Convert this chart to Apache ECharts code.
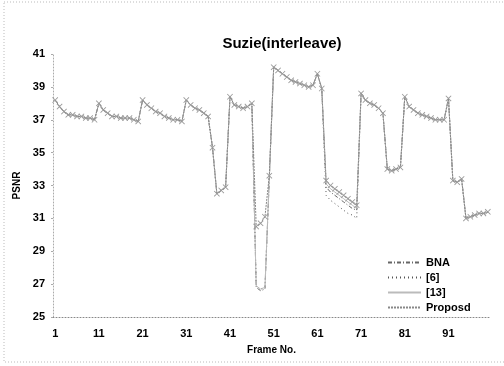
<!DOCTYPE html>
<html>
<head>
<meta charset="utf-8">
<script src="https://cdn.jsdelivr.net/npm/echarts@6/dist/echarts.min.js"></script>
<style>
  html, body { margin: 0; padding: 0; background: #fff; }
  #chart { width: 504px; height: 366px; }
</style>
</head>
<body>
<div id="chart"></div>
<script>
// frame numbers on the x axis
const frames = [
  1, 2, 3, 4, 5, 6, 7, 8, 9, 10, 11, 12, 13, 14, 15, 16, 17, 18, 19, 20,
  21, 22, 23, 24, 25, 26, 27, 28, 29, 30, 31, 32, 33, 34, 35, 36, 37, 38, 39, 40,
  41, 42, 43, 44, 45, 46, 47, 48, 49, 50, 51, 52, 53, 54, 55, 56, 57, 58, 59, 60,
  61, 62, 63, 64, 65, 66, 67, 68, 69, 70, 71, 72, 73, 74, 75, 76, 77, 78, 79, 80,
  81, 82, 83, 84, 85, 86, 87, 88, 89, 90, 91, 92, 93, 94, 95, 96, 97, 98, 99, 100
]
const seriesNames = ['BNA', '[6]', '[13]', 'Proposd']

// PSNR per frame
const bna = [
  38.2, 37.8, 37.5, 37.3, 37.3, 37.2, 37.2, 37.1, 37.1, 37.0,
  38.0, 37.6, 37.4, 37.2, 37.2, 37.1, 37.1, 37.1, 37.0, 36.9,
  38.2, 37.9, 37.7, 37.5, 37.4, 37.2, 37.1, 37.0, 37.0, 36.9,
  38.2, 37.9, 37.7, 37.6, 37.4, 37.2, 35.3, 32.5, 32.7, 32.9,
  38.4, 37.9, 37.8, 37.7, 37.8, 38.0, 26.8, 26.6, 26.7, 33.4,
  40.2, 40.0, 39.8, 39.6, 39.4, 39.3, 39.2, 39.1, 39.0, 39.1,
  39.8, 38.9, 32.9, 32.6, 32.4, 32.2, 32.0, 31.8, 31.6, 31.5,
  38.6, 38.2, 38.0, 37.9, 37.7, 37.4, 34.0, 33.9, 34.0, 34.1,
  38.4, 37.8, 37.6, 37.4, 37.3, 37.2, 37.1, 37.0, 37.0, 37.0,
  38.3, 33.3, 33.2, 33.4, 31.0, 31.1, 31.2, 31.3, 31.3, 31.4
]
const ref6 = [
  38.2, 37.8, 37.5, 37.3, 37.3, 37.2, 37.2, 37.1, 37.1, 37.0,
  38.0, 37.6, 37.4, 37.2, 37.2, 37.1, 37.1, 37.1, 37.0, 36.9,
  38.2, 37.9, 37.7, 37.5, 37.4, 37.2, 37.1, 37.0, 37.0, 36.9,
  38.2, 37.9, 37.7, 37.6, 37.4, 37.2, 35.3, 32.5, 32.7, 32.9,
  38.4, 37.9, 37.8, 37.7, 37.8, 38.0, 26.9, 26.7, 26.8, 33.5,
  40.2, 40.0, 39.8, 39.6, 39.4, 39.3, 39.2, 39.1, 39.0, 39.1,
  39.8, 38.9, 32.4, 32.1, 31.9, 31.7, 31.5, 31.3, 31.2, 31.0,
  38.6, 38.2, 38.0, 37.9, 37.7, 37.4, 34.0, 33.9, 34.0, 34.1,
  38.4, 37.8, 37.6, 37.4, 37.3, 37.2, 37.1, 37.0, 37.0, 37.0,
  38.3, 33.3, 33.2, 33.4, 31.0, 31.1, 31.2, 31.3, 31.3, 31.4
]
const ref13 = [
  38.2, 37.8, 37.5, 37.3, 37.3, 37.2, 37.2, 37.1, 37.1, 37.0,
  38.0, 37.6, 37.4, 37.2, 37.2, 37.1, 37.1, 37.1, 37.0, 36.9,
  38.2, 37.9, 37.7, 37.5, 37.4, 37.2, 37.1, 37.0, 37.0, 36.9,
  38.2, 37.9, 37.7, 37.6, 37.4, 37.2, 35.3, 32.5, 32.7, 32.9,
  38.4, 37.9, 37.8, 37.7, 37.8, 38.0, 26.9, 26.7, 26.8, 33.5,
  40.2, 40.0, 39.8, 39.6, 39.4, 39.3, 39.2, 39.1, 39.0, 39.1,
  39.8, 38.9, 33.1, 32.8, 32.6, 32.4, 32.2, 32.0, 31.8, 31.6,
  38.6, 38.2, 38.0, 37.9, 37.7, 37.4, 34.0, 33.9, 34.0, 34.1,
  38.4, 37.8, 37.6, 37.4, 37.3, 37.2, 37.1, 37.0, 37.0, 37.0,
  38.3, 33.3, 33.2, 33.4, 31.0, 31.1, 31.2, 31.3, 31.3, 31.4
]
const proposed = [
  38.2, 37.8, 37.5, 37.3, 37.3, 37.2, 37.2, 37.1, 37.1, 37.0,
  38.0, 37.6, 37.4, 37.2, 37.2, 37.1, 37.1, 37.1, 37.0, 36.9,
  38.2, 37.9, 37.7, 37.5, 37.4, 37.2, 37.1, 37.0, 37.0, 36.9,
  38.2, 37.9, 37.7, 37.6, 37.4, 37.2, 35.3, 32.5, 32.7, 32.9,
  38.4, 37.9, 37.8, 37.7, 37.8, 38.0, 30.5, 30.7, 31.1, 33.6,
  40.2, 40.0, 39.8, 39.6, 39.4, 39.3, 39.2, 39.1, 39.0, 39.1,
  39.8, 38.9, 33.3, 33.0, 32.8, 32.6, 32.4, 32.2, 32.0, 31.8,
  38.6, 38.2, 38.0, 37.9, 37.7, 37.4, 34.0, 33.9, 34.0, 34.1,
  38.4, 37.8, 37.6, 37.4, 37.3, 37.2, 37.1, 37.0, 37.0, 37.0,
  38.3, 33.3, 33.2, 33.4, 31.0, 31.1, 31.2, 31.3, 31.3, 31.4
]

const font = 'Arial, "Liberation Sans", sans-serif'
// thin X mark used for the proposed series
const crossPath = 'path://M0,1L1,0L5,4L9,0L10,1L6,5L10,9L9,10L5,6L1,10L0,9L4,5Z'

const chart = echarts.init(document.getElementById('chart'), null, { renderer: 'canvas' })

const lineSeries = (name, data, color, type, extra) => Object.assign({
  name: name,
  type: 'line',
  data: data,
  symbol: 'none',
  animation: false,
  lineStyle: { color: color, width: 1, type: type },
  itemStyle: { color: color }
}, extra || {})

const option = {
  backgroundColor: '#fff',
  textStyle: { fontFamily: font },
  graphic: [{
    type: 'rect',
    shape: { x: 4, y: 2, width: 520, height: 360 },
    style: { fill: 'none', stroke: '#bbb', lineWidth: 1, lineDash: [1, 2] },
    silent: true
  }],
  title: {
    text: 'Suzie(interleave)',
    left: 277,
    top: 31,
    textAlign: 'center',
    textStyle: { fontSize: 15, fontWeight: 'bold', color: '#000', fontFamily: font }
  },
  grid: { left: 53, right: 14, top: 54, bottom: 49 },
  legend: {
    orient: 'vertical',
    left: 382,
    top: 252,
    itemWidth: 33,
    itemHeight: 10,
    itemGap: 4,
    data: seriesNames,
    itemStyle: { opacity: 0 },
    textStyle: { fontSize: 11, fontWeight: 'bold', color: '#000', fontFamily: font }
  },
  xAxis: {
    type: 'category',
    data: frames,
    boundaryGap: true,
    name: 'Frame No.',
    nameLocation: 'middle',
    nameGap: 28,
    nameTextStyle: { fontSize: 10, fontWeight: 'bold', color: '#000' },
    axisLine: { lineStyle: { color: '#888', type: [1, 2] } },
    axisTick: { show: false },
    axisLabel: { interval: 9, margin: 11, fontSize: 11, fontWeight: 'bold', color: '#000' },
    splitLine: { show: false }
  },
  yAxis: {
    type: 'value',
    min: 25,
    max: 41,
    interval: 2,
    name: 'PSNR',
    nameLocation: 'middle',
    nameGap: 29,
    nameTextStyle: { fontSize: 10, fontWeight: 'bold', color: '#000' },
    axisLine: { show: true, lineStyle: { color: '#aaa', type: [1, 2] } },
    axisTick: { show: true, length: 2, lineStyle: { color: '#aaa' } },
    axisLabel: { margin: 8, fontSize: 11, fontWeight: 'bold', color: '#000' },
    splitLine: { show: false }
  },
  series: [
    lineSeries('BNA', bna, '#666', [4, 2, 1, 2]),
    lineSeries('[6]', ref6, '#555', [1, 3]),
    lineSeries('[13]', ref13, '#bbb', 'solid'),
    lineSeries('Proposd', proposed, '#888', [2, 1], {
      symbol: crossPath,
      symbolSize: 6,
      showSymbol: true,
      showAllSymbol: true,
      itemStyle: { color: '#999' }
    })
  ]
}

chart.setOption(option)
</script>
</body>
</html>
